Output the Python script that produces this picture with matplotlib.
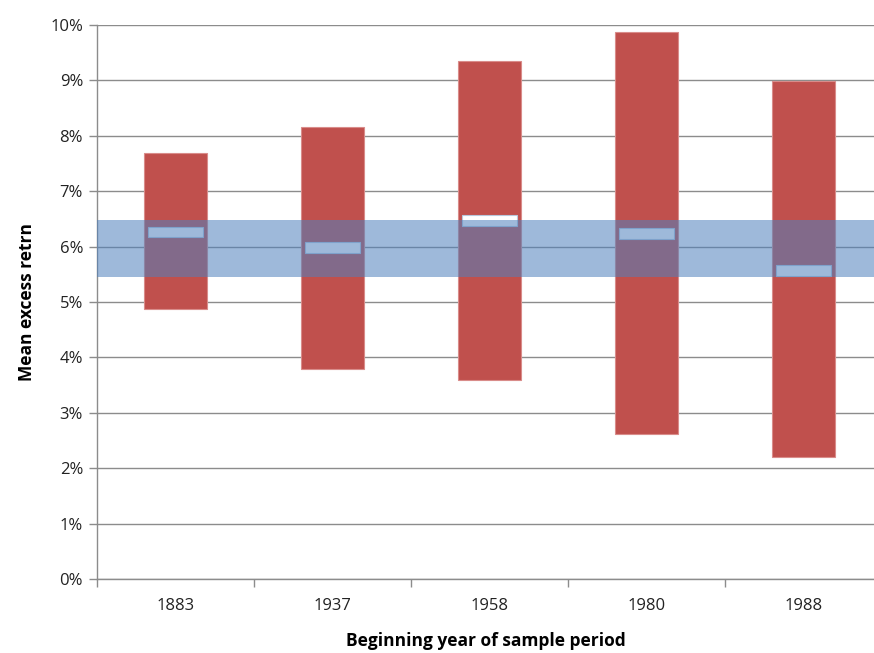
import matplotlib
matplotlib.use("Agg")
import matplotlib.pyplot as plt
from matplotlib.ticker import FuncFormatter, FixedLocator
import numpy as np

years = ["1883", "1937", "1958", "1980", "1988"]
low = [4.87, 3.79, 3.59, 2.62, 2.20]
high = [7.69, 8.16, 9.35, 9.87, 8.99]
mean = [6.26, 5.98, 6.47, 6.24, 5.57]
band_low, band_high = 5.45, 6.48

RED = "#C0504D"
BLUE = "#4F81BD"
GRID = "#8C8C8C"

plt.rcParams['font.family'] = ['Open Sans', 'DejaVu Sans']

fig = plt.figure(figsize=(8.74, 6.53), dpi=100)
ax = fig.add_axes([97/874, 1 - 579/653, 777/874, (579 - 25)/653])

x = np.arange(len(years))
ax.bar(x, np.array(high) - np.array(low), bottom=low, width=0.395,
       color=RED, edgecolor="#D98C8A", linewidth=0.8, zorder=2)
mh = 0.19
ax.bar(x, [mh] * len(x), bottom=np.array(mean) - mh / 2, width=0.345,
       color="white", edgecolor="#B8C8DC", linewidth=0.8, zorder=3)
ax.axhspan(band_low, band_high, color=BLUE, alpha=0.55, linewidth=0, zorder=4)

ax.set_ylim(0, 10)
ax.set_xlim(-0.5, 4.449)
ax.set_yticks(np.arange(0, 11, 1))
ax.yaxis.set_major_formatter(FuncFormatter(lambda v, p: f"{int(round(v))}%"))
ax.yaxis.grid(True, color=GRID, linewidth=1.0, zorder=1)
ax.set_axisbelow(True)

ax.set_xticks(x)
ax.set_xticklabels(years)
ax.xaxis.set_minor_locator(FixedLocator(np.arange(-0.5, 5.0, 1.0)))
ax.tick_params(axis='x', which='major', length=0, pad=14, labelsize=12, labelcolor="#222222")
ax.tick_params(axis='x', which='minor', length=6, color=GRID, width=1)
ax.tick_params(axis='y', which='major', length=6, color=GRID, width=1, labelsize=12,
               labelcolor="#222222", pad=4)

for s in ['top', 'right']:
    ax.spines[s].set_visible(False)
for s in ['left', 'bottom']:
    ax.spines[s].set_color(GRID)
    ax.spines[s].set_linewidth(1.0)

ax.set_ylabel("Mean excess retrn", fontsize=12.5, fontweight='bold', labelpad=10)
ax.set_xlabel("Beginning year of sample period", fontsize=12.5, fontweight='bold', labelpad=13)

fig.savefig("out.png", dpi=100)
